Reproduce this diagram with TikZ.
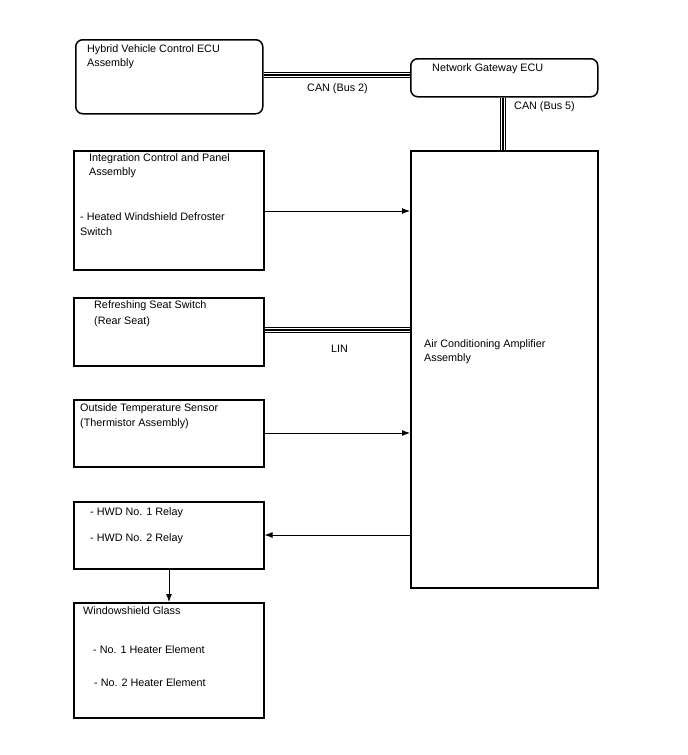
\documentclass[tikz,border=0pt]{standalone}
\usepackage{fontspec}
\setmainfont{Liberation Sans}
\usetikzlibrary{arrows.meta}
\begin{document}
\begin{tikzpicture}[x=1pt,y=-1pt,
  box/.style={draw, line width=1.5pt, inner sep=0pt, anchor=north west},
  rbox/.style={box, rounded corners=7pt},
  txt/.style={anchor=west, inner sep=0pt, font=\fontsize{10.8}{12}\selectfont},
  sig/.style={line width=0.9pt, -{Latex[length=8pt,width=6pt]}},
  busA/.style={line width=6.6pt},
  busB/.style={white, line width=1.1pt, double=black, double distance=1.5pt}]
\useasboundingbox (0,0) rectangle (688,755);
% boxes
\node[rbox, minimum width=187pt, minimum height=74pt] (hv) at (75,39) {};
\node[rbox, minimum width=187pt, minimum height=38pt] (gw) at (410,58) {};
\node[box, minimum width=190pt, minimum height=119pt] (ic) at (73,150) {};
\node[box, minimum width=187pt, minimum height=437pt] (ac) at (410,150) {};
\node[box, minimum width=190pt, minimum height=68pt] (rs) at (73,297) {};
\node[box, minimum width=190pt, minimum height=67pt] (ot) at (73,399) {};
\node[box, minimum width=190pt, minimum height=67pt] (hr) at (73,501) {};
\node[box, minimum width=190pt, minimum height=115pt] (wg) at (73,602) {};
% texts
\node[txt] at (87,50) {Hybrid Vehicle Control ECU};
\node[txt] at (87,64) {Assembly};
\node[txt] at (432,69) {Network Gateway ECU};
\node[txt] at (89,159) {Integration Control and Panel};
\node[txt] at (89,173) {Assembly};
\node[txt] at (80,217) {- Heated Windshield Defroster};
\node[txt] at (80,232) {Switch};
\node[txt] at (424,345) {Air Conditioning Amplifier};
\node[txt] at (424,359) {Assembly};
\node[txt] at (94,306) {Refreshing Seat Switch};
\node[txt] at (94,322) {(Rear Seat)};
\node[txt] at (80,409) {Outside Temperature Sensor};
\node[txt] at (80,424) {(Thermistor Assembly)};
\node[txt] at (90,513) {- HWD No. 1 Relay};
\node[txt] at (90,539) {- HWD No. 2 Relay};
\node[txt] at (83,611) {Windowshield Glass};
\node[txt] at (93,650) {- No. 1 Heater Element};
\node[txt] at (94,683) {- No. 2 Heater Element};
% bus labels
\node[txt] (l1) at (307,89) {CAN (Bus 2)};
\node[txt] (l2) at (514,107) {CAN (Bus 5)};
\node[txt] (l3) at (331,349) {LIN};
% buses
\draw[busA] (hv.east |- 0,75) -- (gw.west |- 0,75);
\draw[busB] (hv.east |- 0,75) -- (gw.west |- 0,75);
\draw[busA] (503,0 |- gw.south) -- (503,0 |- ac.north);
\draw[busB] (503,0 |- gw.south) -- (503,0 |- ac.north);
\draw[busA] (rs.east |- 0,330) -- (ac.west |- 0,330);
\draw[busB] (rs.east |- 0,330) -- (ac.west |- 0,330);
% signals
\draw[sig] (ic.east |- 0,211) -- (ac.west |- 0,211);
\draw[sig] (ot.east |- 0,433) -- (ac.west |- 0,433);
\draw[sig] (ac.west |- 0,535) -- (hr.east |- 0,535);
\draw[sig] (hr.south -| 169,0) -- (wg.north -| 169,0);
\end{tikzpicture}
\end{document}
